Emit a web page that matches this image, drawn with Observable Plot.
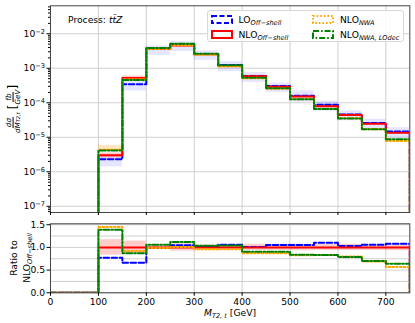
<!DOCTYPE html>
<html><head><meta charset="utf-8">
<script src="https://cdn.jsdelivr.net/npm/d3@7"></script>
<script src="https://cdn.jsdelivr.net/npm/@observablehq/plot@0.6"></script>
<style>
body{margin:0;background:#fff;font-family:"DejaVu Sans",sans-serif;}
#wrap{position:relative;width:415px;height:323px;overflow:hidden;background:#fff;}
#wrap svg.plot{position:absolute;left:0;}
.abs{position:absolute;white-space:nowrap;color:#000;font-size:9.2px;line-height:1;}
.sub{font-size:6.6px;font-style:italic;position:relative;top:2.2px;}
.it{font-style:italic;}
.rot{transform:translate(-50%,-50%) rotate(-90deg);transform-origin:center center;}
.frac{display:inline-flex;flex-direction:column;align-items:center;vertical-align:middle;font-size:7.2px;line-height:1.1;font-style:italic;}
.frac>span:first-child{border-bottom:0.7px solid #000;padding:0 1px;}
.fsub{font-size:5.2px;}
#legend{position:absolute;left:207px;top:10px;width:197px;height:32px;border:1px solid #d8d8d8;border-radius:3px;background:rgba(255,255,255,0.85);box-sizing:border-box;}
</style></head><body><div id="wrap"></div>
<script>
// ---- data ----
const binLow  = [0,50,100,150,200,250,300,350,400,450,500,550,600,650,700];
const binHigh = [50,100,150,200,250,300,350,400,450,500,550,600,650,700,750];
// dsigma/dM_T2,t [fb/GeV]
const nloOff      = [0,0,3.0e-6,5.24e-4,3.67e-3,4.58e-3,2.55e-3,1.17e-3,5.86e-4,2.91e-4,1.52e-4,7.9e-5,4.43e-5,2.46e-5,1.36e-5];
const loOff       = [0,0,2.31e-6,3.46e-4,3.63e-3,4.81e-3,2.58e-3,1.24e-3,5.92e-4,3.06e-4,1.60e-4,8.7e-5,4.56e-5,2.61e-5,1.47e-5];
const nloNWA      = [0,0,4.35e-6,4.82e-4,3.63e-3,4.63e-3,2.45e-3,1.12e-3,5.10e-4,2.53e-4,1.26e-4,6.56e-5,3.54e-5,1.70e-5,7.75e-6];
const nloNWALOdec = [0,0,4.17e-6,4.56e-4,3.89e-3,5.13e-3,2.65e-3,1.22e-3,5.30e-4,2.63e-4,1.27e-4,6.6e-5,3.5e-5,1.72e-5,8.7e-6];
// uncertainty bands
const nloOffLow  = [0,0,2.49e-6,4.51e-4,3.50e-3,4.21e-3,2.42e-3,1.11e-3,5.45e-4,2.71e-4,1.41e-4,7.35e-5,4.12e-5,2.29e-5,1.26e-5];
const nloOffHigh = [0,0,3.51e-6,5.97e-4,3.85e-3,4.95e-3,2.68e-3,1.23e-3,6.27e-4,3.11e-4,1.63e-4,8.45e-5,4.74e-5,2.63e-5,1.46e-5];
const loOffLow   = [0,0,1.38e-6,2.2e-4,2.35e-3,3.1e-3,1.7e-3,8.0e-4,3.9e-4,2.0e-4,1.05e-4,5.7e-5,3.0e-5,1.72e-5,9.6e-6];
const loOffHigh  = [0,0,3.1e-6,4.7e-4,4.4e-3,5.9e-3,3.2e-3,1.55e-3,7.5e-4,3.7e-4,2.2e-4,1.12e-4,5.8e-5,3.35e-5,1.9e-5];
const nwaLow     = [0,0,4.1e-6,4.5e-4,3.45e-3,4.4e-3,2.33e-3,1.06e-3,4.85e-4,2.4e-4,1.2e-4,6.2e-5,3.35e-5,1.6e-5,7.3e-6];
const nwaHigh    = [0,0,5.8e-6,5.3e-4,3.85e-3,4.9e-3,2.6e-3,1.19e-3,5.4e-4,2.68e-4,1.34e-4,6.95e-5,3.75e-5,1.8e-5,8.2e-6];
const xTicks = [0,100,200,300,400,500,600,700];
const yTicksTop = [1e-7,1e-6,1e-5,1e-4,1e-3,1e-2];
const yTicksRatio = [0,0.5,1.0,1.5];
const yGridRatio = [0,0.25,0.5,0.75,1.0,1.25,1.5];

// ---- helpers ----
const FLOOR = 1e-10;
const xEnd = binHigh[binHigh.length-1];
function steps(vals, floor){
  const pts = binLow.map((x,i)=>({x, y: vals[i] > 0 ? vals[i] : floor}));
  pts.push({x: xEnd, y: pts[pts.length-1].y});
  pts.push({x: xEnd, y: floor});
  return pts;
}
function ratio(vals){ return vals.map((v,i)=> nloOff[i] > 0 ? v/nloOff[i] : 0); }
function bandRows(lo, hi, ref){
  return binLow.map((x,i)=>({x1:x, x2:binHigh[i], y1: ref? lo[i]/ref[i] : lo[i], y2: ref? hi[i]/ref[i] : hi[i], ok: lo[i]>0}))
    .filter(d=>d.ok);
}
const logFmt = v => "10^" + String(Math.round(Math.log10(v))).replace("-", "−");
const minorTop = [];
for (let e=-8; e<=-2; e++) for (let k=2;k<=9;k++){ const v=k*10**e; if (v>10**-7.18 && v<10**-1.19) minorTop.push(v); }

const series = [
  {vals: loOff, color:"blue", dash:"5.5,2.5"},
  {vals: nloOff, color:"red", dash:null},
  {vals: nloNWA, color:"orange", dash:"1.6,2.2"},
  {vals: nloNWALOdec, color:"green", dash:"6,2,1.6,2"}
];
const grid = "#cfcfcf";
const frameCol = "#444";
const font = "DejaVu Sans";

// ---- top panel ----
const topPlot = Plot.plot({
  width: 415, height: 215,
  marginLeft: 50, marginRight: 5.7, marginTop: 5.3, marginBottom: 3,
  x: {domain: [0, 750]},
  y: {type: "log", domain: [10**-7.18, 10**-1.19]},
  style: {fontFamily: font, fontSize: "9.2px", color: "#000", background: "transparent"},
  marks: [
    Plot.gridX(xTicks, {stroke: grid, strokeOpacity: 1}),
    Plot.gridY(yTicksTop, {stroke: grid, strokeOpacity: 1}),
    Plot.rect(bandRows(loOffLow, loOffHigh), {x1:"x1", x2:"x2", y1:"y1", y2:"y2", fill:"blue", fillOpacity:0.1, clip:true}),
    Plot.rect(bandRows(nwaLow, nwaHigh), {x1:"x1", x2:"x2", y1:"y1", y2:"y2", fill:"orange", fillOpacity:0.25, clip:true}),
    Plot.rect(bandRows(nloOffLow, nloOffHigh), {x1:"x1", x2:"x2", y1:"y1", y2:"y2", fill:"red", fillOpacity:0.2, clip:true}),
    ...series.map(s => Plot.line(steps(s.vals, FLOOR), {x:"x", y:"y", curve:"step-after", stroke:s.color, strokeWidth:2, strokeDasharray:s.dash, clip:true})),
    Plot.frame({stroke: frameCol, strokeWidth: 1}),
    Plot.axisX(xTicks, {tickFormat: () => "", tickSize: 3.5, label: null}),
    Plot.axisY(yTicksTop, {tickFormat: logFmt, tickSize: 3.5, tickPadding: 2, label: null}),
    Plot.axisY(minorTop, {tickFormat: () => "", tickSize: 2, label: null})
  ]
});
topPlot.classList.add("plot");
topPlot.style.top = "0px";
// turn "10^−n" labels into real superscripts
d3.select(topPlot).selectAll("text").each(function(){
  const t = this.textContent;
  if (t.startsWith("10^")) {
    const exp = t.slice(3);
    const sel = d3.select(this);
    sel.text("");
    sel.append("tspan").text("10");
    sel.append("tspan").attr("dy", "-0.45em").attr("font-size", "6.6px").text(exp);
  }
});

// ---- ratio panel ----
const botPlot = Plot.plot({
  width: 415, height: 108,
  marginLeft: 50, marginRight: 5.7, marginTop: 8.3, marginBottom: 30.7,
  x: {domain: [0, 750]},
  y: {domain: [0, 1.52]},
  style: {fontFamily: font, fontSize: "9.2px", color: "#000", background: "transparent"},
  marks: [
    Plot.gridX(xTicks, {stroke: grid, strokeOpacity: 1}),
    Plot.gridY(yGridRatio, {stroke: grid, strokeOpacity: 1}),
    Plot.rect(bandRows(nloOffLow, nloOffHigh, nloOff), {x1:"x1", x2:"x2", y1:"y1", y2:"y2", fill:"red", fillOpacity:0.2, clip:true}),
    ...series.map(s => Plot.line(steps(ratio(s.vals), 0), {x:"x", y:"y", curve:"step-after", stroke:s.color, strokeWidth:2, strokeDasharray:s.dash, clip:true})),
    Plot.frame({stroke: frameCol, strokeWidth: 1}),
    Plot.axisX(xTicks, {tickFormat: d => String(d), tickSize: 3.5, tickPadding: 2, label: null}),
    Plot.axisY(yTicksRatio, {tickFormat: d3.format(".1f"), tickSize: 3.5, tickPadding: 2, label: null})
  ]
});
botPlot.classList.add("plot");
botPlot.style.top = "215px";

const wrap = document.getElementById("wrap");
wrap.appendChild(topPlot);
wrap.appendChild(botPlot);

// ---- annotations ----
function add(html, css, cls){ const d=document.createElement("div"); d.className="abs "+(cls||""); d.innerHTML=html; Object.assign(d.style, css); wrap.appendChild(d); return d; }
add('Process: <span class="it">tt̄Z</span>', {left:"68px", top:"15px"});
add('<span class="frac"><span>dσ</span><span>dM<span class="fsub">T2,t</span></span></span> <span style="font-size:12px;vertical-align:middle">[</span><span class="frac"><span>fb</span><span>GeV</span></span><span style="font-size:12px;vertical-align:middle">]</span>',
    {left:"13px", top:"108.6px"}, "rot");
add('Ratio to', {left:"13.5px", top:"257.8px"}, "rot");
add('NLO<span class="sub">Off−shell</span>', {left:"26.5px", top:"257.8px"}, "rot");
add('<span class="it">M</span><span class="sub">T2, t</span> [GeV]', {left:"230px", top:"312.5px", transform:"translate(-50%,-50%)"});

// legend
const leg = document.createElement("div"); leg.id="legend"; wrap.appendChild(leg);
const items = [
  {x:2.5, y:3.5, color:"blue", dash:"5,2.5", label:'LO<span class="sub">Off−shell</span>'},
  {x:2.5, y:18.5, color:"red", dash:null, label:'NLO<span class="sub">Off−shell</span>'},
  {x:104, y:3.5, color:"orange", dash:"1.6,2", label:'NLO<span class="sub">NWA</span>'},
  {x:104, y:18.5, color:"green", dash:"6,2,1.6,2", label:'NLO<span class="sub">NWA, LOdec</span>'}
];
items.forEach(it=>{
  const d=document.createElement("div");
  d.style.cssText=`position:absolute;left:${it.x}px;top:${it.y}px;white-space:nowrap;font-size:9.2px;line-height:1;`;
  d.innerHTML=`<svg width="22" height="9" style="vertical-align:-1px"><rect x="1" y="1" width="20" height="7" fill="white" fill-opacity="0" stroke="${it.color}" stroke-width="2" ${it.dash?`stroke-dasharray="${it.dash}"`:""}/></svg><span style="margin-left:6px">${it.label}</span>`;
  leg.appendChild(d);
});
</script></body></html>
